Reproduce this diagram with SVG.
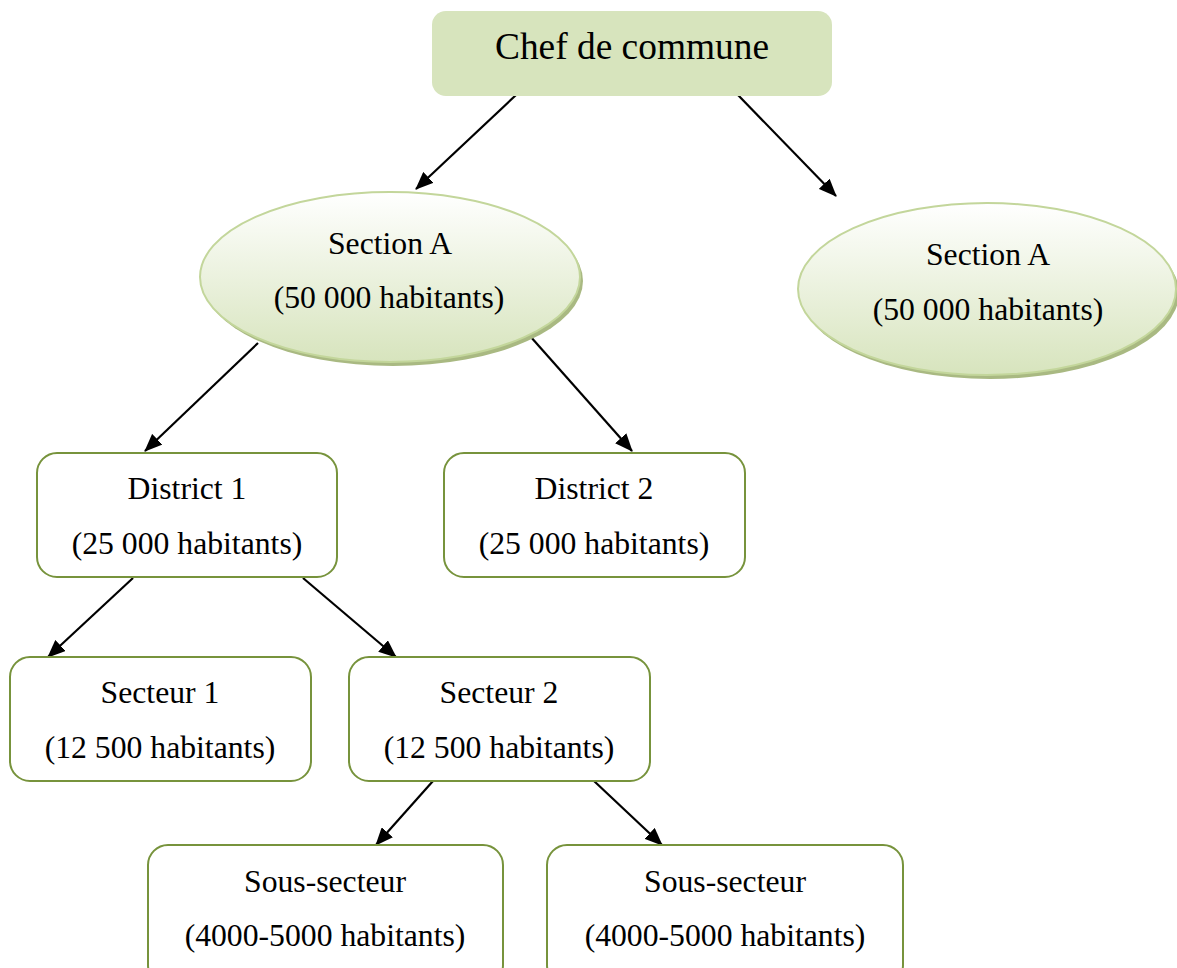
<svg xmlns="http://www.w3.org/2000/svg" width="1177" height="968" viewBox="0 0 1177 968">
<style>
text{font-family:"Liberation Serif","Times New Roman",serif;fill:#000;text-anchor:middle}
.t{font-size:31.7px}
.box{fill:#fff;stroke:#77933c;stroke-width:2}
.ell{fill:url(#eg);stroke:#c3d69b;stroke-width:2}
.sh{fill:#a9b982}
.conn line{stroke:#000;stroke-width:2.2;marker-end:url(#ah)}
</style>
<defs>
<linearGradient id="eg" x1="0" y1="0" x2="0" y2="1">
<stop offset="0" stop-color="#ffffff"/>
<stop offset="1" stop-color="#d7e4bd"/>
</linearGradient>
<marker id="ah" markerWidth="18" markerHeight="15" refX="17" refY="7.5" orient="auto" markerUnits="userSpaceOnUse" viewBox="0 0 18 15">
<path d="M0,0 L18,7.5 L0,15 z" fill="#000"/>
</marker>
</defs>
<rect width="1177" height="968" fill="#fff"/>
<g class="conn">
<line x1="516" y1="95" x2="416" y2="189"/>
<line x1="738" y1="95" x2="836" y2="196"/>
<line x1="258" y1="343" x2="145" y2="451"/>
<line x1="530" y1="336" x2="632" y2="451"/>
<line x1="133" y1="578" x2="48" y2="657"/>
<line x1="303" y1="578" x2="396" y2="657"/>
<line x1="433" y1="781" x2="376" y2="845"/>
<line x1="594" y1="781" x2="662" y2="845"/>
</g>
<g id="chef">
<rect x="432" y="11" width="400" height="85" rx="14" fill="#d7e4bd"/>
<text x="632" y="59" style="font-size:37.4px">Chef de commune</text>
</g>
<g id="sectionA1">
<ellipse class="sh" cx="393" cy="281" rx="190" ry="85"/>
<ellipse class="ell" cx="390" cy="277" rx="190" ry="85"/>
<text class="t" x="390" y="254">Section A</text>
<text class="t" x="389" y="308">(50 000 habitants)</text>
</g>
<g id="sectionA2">
<ellipse class="sh" cx="990" cy="293" rx="189" ry="86"/>
<ellipse class="ell" cx="987" cy="289" rx="189" ry="86"/>
<text class="t" x="988" y="265">Section A</text>
<text class="t" x="988" y="320">(50 000 habitants)</text>
</g>
<g id="district1">
<rect class="box" x="37" y="453" width="300" height="124" rx="20"/>
<text class="t" x="187" y="499">District 1</text>
<text class="t" x="187" y="554">(25 000 habitants)</text>
</g>
<g id="district2">
<rect class="box" x="444" y="453" width="301" height="124" rx="20"/>
<text class="t" x="594" y="499">District 2</text>
<text class="t" x="594" y="554">(25 000 habitants)</text>
</g>
<g id="secteur1">
<rect class="box" x="10" y="657" width="301" height="124" rx="20"/>
<text class="t" x="160" y="703">Secteur 1</text>
<text class="t" x="160" y="758">(12 500 habitants)</text>
</g>
<g id="secteur2">
<rect class="box" x="349" y="657" width="301" height="124" rx="20"/>
<text class="t" x="499" y="703">Secteur 2</text>
<text class="t" x="499" y="758">(12 500 habitants)</text>
</g>
<g id="soussecteur1">
<rect class="box" x="148" y="845" width="355" height="140" rx="20"/>
<text class="t" x="325" y="892">Sous-secteur</text>
<text class="t" x="325" y="946">(4000-5000 habitants)</text>
</g>
<g id="soussecteur2">
<rect class="box" x="547" y="845" width="356" height="140" rx="20"/>
<text class="t" x="725" y="892">Sous-secteur</text>
<text class="t" x="725" y="946">(4000-5000 habitants)</text>
</g>
</svg>
